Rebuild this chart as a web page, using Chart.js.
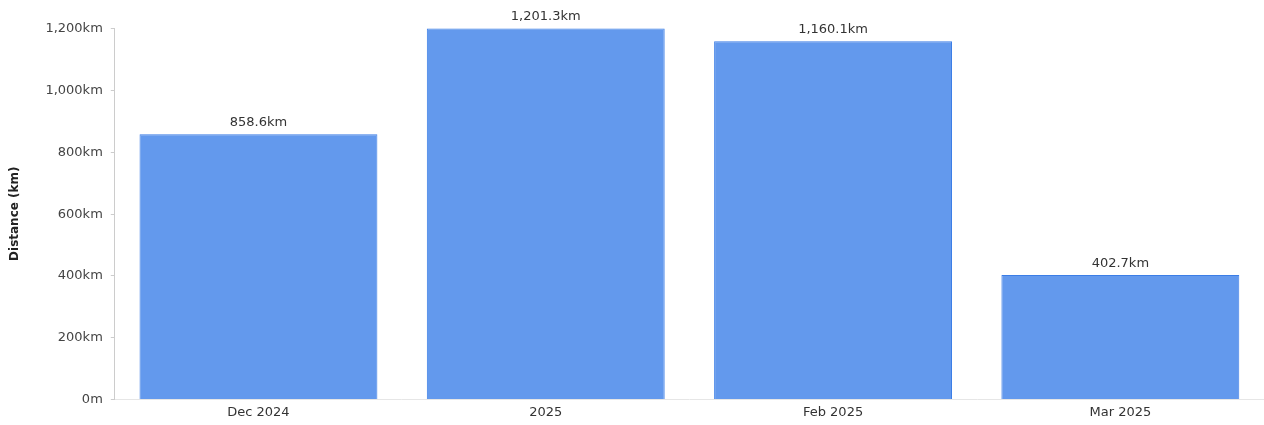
<!DOCTYPE html>
<html>
<head>
<meta charset="utf-8">
<script src="https://cdn.jsdelivr.net/npm/chart.js@4/dist/chart.umd.min.js"></script>
<style>
  html, body { margin: 0; padding: 0; background: #fff; }
  #wrap { width: 1264px; height: 425px; }
</style>
</head>
<body>
<div id="wrap"><canvas id="distChart"></canvas></div>
<script>
var labels = ["Dec 2024", "2025", "Feb 2025", "Mar 2025"];
var distances = [858.6, 1201.3, 1160.1, 402.7];
var yTicks = [0, 200, 400, 600, 800, 1000, 1200];

function fmtKm(v, dec) {
  if (v === 0) return "0m";
  return v.toLocaleString("en-US", { minimumFractionDigits: dec, maximumFractionDigits: dec }) + "km";
}

// draw the value above every bar
var barLabels = {
  id: "barLabels",
  afterDatasetsDraw: function(chart) {
    var ctx = chart.ctx;
    var meta = chart.getDatasetMeta(0);
    ctx.save();
    ctx.font = "13px 'DejaVu Sans'";
    ctx.fillStyle = "#333";
    ctx.textAlign = "center";
    ctx.textBaseline = "bottom";
    meta.data.forEach(function(bar, i) {
      ctx.fillText(fmtKm(distances[i], 1), bar.x, bar.y - 5);
    });
    ctx.restore();
  }
};

var ctx = document.getElementById("distChart");
var chart = new Chart(ctx, {
  type: "bar",
  data: {
    labels: labels,
    datasets: [{
      label: "Distance",
      data: distances,
      backgroundColor: "#6399ed",
      borderColor: "#3b7de6",
      borderWidth: 1,
      barPercentage: 0.92,
      categoryPercentage: 0.9
    }]
  },
  options: {
    responsive: true,
    maintainAspectRatio: false,
    animation: false,
    layout: { padding: { top: 28, right: 0, left: 8, bottom: 0 } },
    plugins: {
      legend: { display: false },
      tooltip: { enabled: false }
    },
    scales: {
      x: {
        grid: { display: false, drawTicks: false },
        border: { display: true, color: "#e6e6e6" },
        ticks: { color: "#333", font: { family: "DejaVu Sans", size: 13 }, padding: 5 }
      },
      y: {
        min: 0,
        max: 1203,
        afterBuildTicks: function(axis) {
          axis.ticks = yTicks.map(function(v) { return { value: v }; });
        },
        grid: { display: true, drawOnChartArea: false, drawTicks: true, tickLength: 4, color: "#ccc" },
        border: { display: true, color: "#ccc" },
        ticks: {
          color: "#444",
          font: { family: "DejaVu Sans", size: 13 },
          padding: 8,
          callback: function(v) { return fmtKm(v, 0); }
        },
        title: {
          display: true,
          text: "Distance (km)",
          color: "#222",
          font: { family: "DejaVu Sans", size: 12, weight: "bold" },
          padding: { top: 0, bottom: 15 }
        }
      }
    }
  },
  plugins: [barLabels]
});
</script>
</body>
</html>
